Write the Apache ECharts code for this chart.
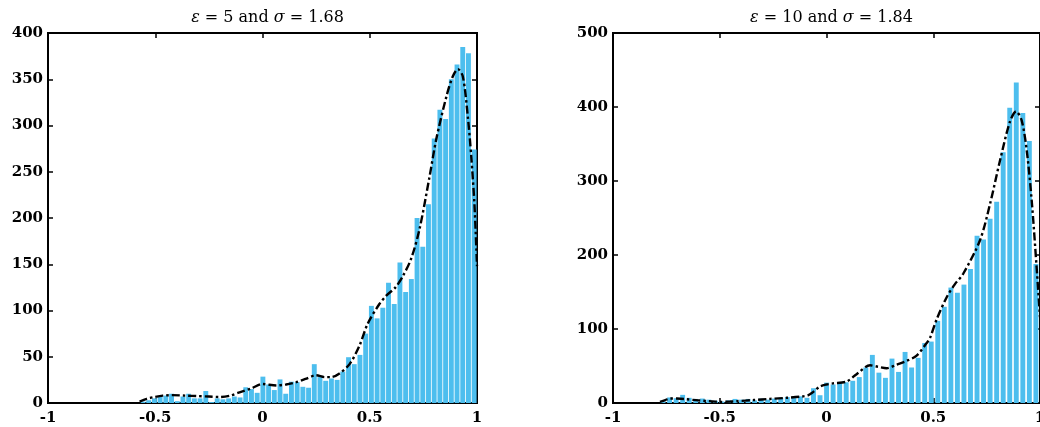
<!DOCTYPE html>
<html><head><meta charset="utf-8">
<script src="https://cdn.jsdelivr.net/npm/echarts@6/dist/echarts.min.js"></script>
<style>html,body{margin:0;padding:0;background:#fff;overflow:hidden}#c{width:1040px;height:427px}</style>
</head><body><div id="c"></div>
<script>
// ---- Left panel (epsilon = 5, sigma = 1.68) ----
const leftBinStart = -0.5705;
const leftBinWidth = 0.02662;
const leftCounts = [1.5,3,5,7,8,10,2,7,10,5, 5,13,1,5,4,5,7,6,17,15, 11,28.5,20,14,25.5,10,23,22.5,17.5,16.5,
  42,28,24,26.5,25,34,49.5,42,52,75, 105,91.5,103,130,107,152,120,134,200,169, 215,286,317,307,350,366,385,378,274];
const leftKdeX = [-0.573,-0.54,-0.503,-0.465,-0.42,-0.36,-0.309,-0.25,-0.2,-0.15,-0.107,-0.05,0.0,0.064,0.11,0.157,0.2,0.25,0.29,0.32,0.359,0.406,0.452,0.491,0.545,0.577,0.62,0.654,0.693,0.732,0.779,0.81,0.857,0.887,0.911,0.934,0.957,0.973,0.988,1.0];
const leftKdeY = [1.5,4.5,6.5,8,8.5,8,7.5,7,6.5,8,11.5,16,20.5,19,20,22.5,26,30,28,28,32,42,62,86,107,116,125,137,156,188,245,285,331,353,361,353,310,267,215,148];
const leftYTicks = {min:0, max:400, interval:50};

// ---- Right panel (epsilon = 10, sigma = 1.84) ----
const rightBinStart = -0.781;
const rightBinWidth = 0.03064;
const rightCounts = [2,7.5,6.5,11,7,5.5,6,4.5,3,2, 3.5,5.5,4.5,5.5,3.5,6,4.5,6,7,8, 8,9,7,20,10.5,27.5,25,27.5,28,30,
  35,48,65,41,34,60,42,69,48,61, 81,83,111,130,156,149,160,181,226,221, 249,272,339,399,433,392,354,188];
const rightKdeX = [-0.78,-0.755,-0.733,-0.7,-0.655,-0.6,-0.55,-0.5,-0.45,-0.42,-0.34,-0.265,-0.186,-0.109,-0.085,-0.069,-0.05,-0.03,0.0,0.03,0.094,0.141,0.204,0.24,0.282,0.33,0.376,0.422,0.469,0.485,0.516,0.563,0.6,0.641,0.719,0.766,0.813,0.859,0.888,0.914,0.938,0.961,0.984,1.0];
const rightKdeY = [1.5,4,6,6,5,3.5,2.5,1.5,2,2.5,4,5.5,7,9,10.5,13.5,18,22.5,25,26.5,29,39,51,49,47,52,57,64,81,88,113,143,160,175,220,269,328,380,394,382,341,274,184,116];
const rightYTicks = {min:0, max:500, interval:100};

const xTicks = {min:-1, max:1, interval:0.5};
const titles = [
  {eps:'5', sig:'1.68'},
  {eps:'10', sig:'1.84'}
];

const barColor = '#4DBEEE';
function labelFont(){ return {fontFamily:'DejaVu Serif', fontWeight:'bold', fontSize:15, color:'#000'}; }

function hist(start, width, counts){
  return counts.map((c,i)=>[start+(i+0.5)*width, c]);
}
function zip(xs, ys){ return xs.map((x,i)=>[x, ys[i]]); }

const grids = [
  {left:48, top:33, width:429, height:370, show:true, borderColor:'#000', borderWidth:2, backgroundColor:'transparent', outerBoundsMode:'none', containLabel:false},
  {left:613, top:33, width:427, height:370, show:true, borderColor:'#000', borderWidth:2, backgroundColor:'transparent', outerBoundsMode:'none', containLabel:false}
];

function xAxis(gi, pos){
  return {type:'value', gridIndex:gi, position:pos, min:xTicks.min, max:xTicks.max, interval:xTicks.interval,
    axisLine:{show:true, onZero:false, lineStyle:{color:'#000', width:2}},
    axisTick:{show:true, inside:true, length:5, lineStyle:{color:'#000', width:1.5}},
    axisLabel: pos==='bottom' ? Object.assign({margin:8}, labelFont()) : {show:false},
    splitLine:{show:false}};
}
function yAxis(gi, t, pos){
  return {type:'value', gridIndex:gi, position:pos, min:t.min, max:t.max, interval:t.interval,
    axisLine:{show:true, onZero:false, lineStyle:{color:'#000', width:2}},
    axisTick:{show:true, inside:true, length:5, lineStyle:{color:'#000', width:1.5}},
    axisLabel: pos==='left' ? Object.assign({margin:5}, labelFont()) : {show:false},
    splitLine:{show:false}};
}

const titleRich = {
  n:{fontFamily:'DejaVu Serif', fontWeight:'normal', fontSize:16, color:'#000'},
  i:{fontFamily:'DejaVu Serif', fontWeight:'normal', fontStyle:'italic', fontSize:16, color:'#000'}
};

const chart = echarts.init(document.getElementById('c'), null, {renderer:'canvas'});
chart.setOption({
  animation:false,
  backgroundColor:'#fff',
  title: titles.map((t,gi)=>({
    text:'{i|ε}{n| = '+t.eps+' and }{i|σ}{n| = '+t.sig+'}',
    left: grids[gi].left + grids[gi].width/2, top:5, textAlign:'center',
    textStyle:{rich:titleRich, fontSize:16, fontWeight:'normal'}
  })),
  grid: grids,
  xAxis: [xAxis(0,'bottom'), xAxis(0,'top'), xAxis(1,'bottom'), xAxis(1,'top')],
  yAxis: [yAxis(0,leftYTicks,'left'), yAxis(0,leftYTicks,'right'), yAxis(1,rightYTicks,'left'), yAxis(1,rightYTicks,'right')],
  series: [
    {type:'bar', xAxisIndex:0, yAxisIndex:0, data:hist(leftBinStart, leftBinWidth, leftCounts),
      barWidth:4.9, itemStyle:{color:barColor}, z:2},
    {type:'line', xAxisIndex:0, yAxisIndex:0, data:zip(leftKdeX, leftKdeY), showSymbol:false, smooth:0.3,
      lineStyle:{color:'#000', width:2.4, type:[8,3,2.5,3]}, z:3},
    {type:'bar', xAxisIndex:2, yAxisIndex:2, data:hist(rightBinStart, rightBinWidth, rightCounts),
      barWidth:4.9, itemStyle:{color:barColor}, z:2},
    {type:'line', xAxisIndex:2, yAxisIndex:2, data:zip(rightKdeX, rightKdeY), showSymbol:false, smooth:0.3,
      lineStyle:{color:'#000', width:2.4, type:[8,3,2.5,3]}, z:3}
  ]
});
</script>
</body></html>
